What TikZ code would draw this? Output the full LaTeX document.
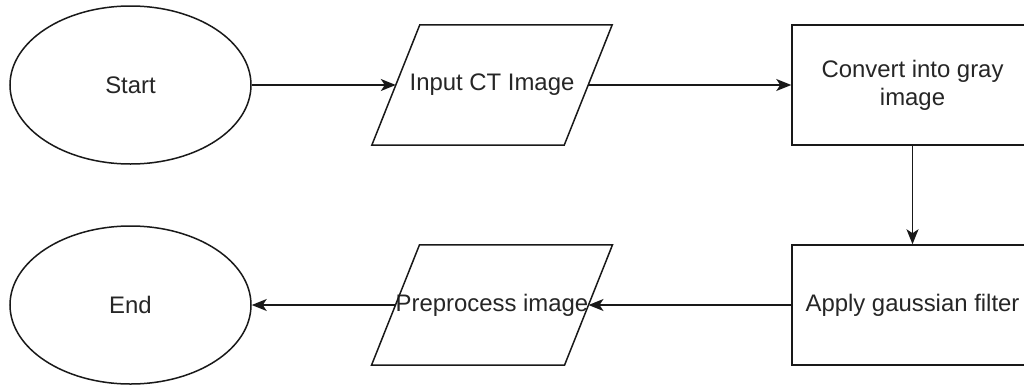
\documentclass[tikz,border=0pt]{standalone}
\usepackage{fontspec}
\setmainfont{Liberation Sans}
\usetikzlibrary{shapes.geometric,arrows.meta}

\tikzset{
  every node/.style={font=\fontsize{23.9}{28}\selectfont, text=black!85},
  outline/.style={draw=black!90, line width=1.5pt},
  terminal/.style={outline, ellipse, minimum width=241pt, minimum height=158pt, inner sep=0pt},
  iobox/.style={rectangle, minimum width=192pt, minimum height=120pt, inner sep=0pt},
  procbox/.style={outline, rectangle, minimum width=241pt, minimum height=120pt, inner sep=0pt, align=center},
  flow/.style={draw=black!90, line width=1.5pt, -{Stealth[length=15pt, width=12pt, inset=4pt]}},
}

% a slanted input/output box drawn around a named text node
\newcommand{\slantbox}[1]{%
  \draw[outline, line join=miter]
    ([xshift=24pt]#1.north west) -- ([xshift=24pt]#1.north east) --
    ([xshift=-24pt]#1.south east) -- ([xshift=-24pt]#1.south west) -- cycle;}

\begin{document}
\begin{tikzpicture}[x=1pt, y=-1pt]
  \useasboundingbox (0,0) rectangle (1024,391);
  \clip (0,0) rectangle (1024,391);
  \fill[white] (0,0) rectangle (1024,391);

  % top row
  \node[terminal] (start) at (130.5,85) {Start};
  \node[iobox] (input) at (492,85) {Input CT Image};
  \slantbox{input}
  \node[procbox] (gray) at (912.5,85) {Convert into gray\\image};

  % bottom row
  \node[procbox] (gauss) at (912.5,305) {Apply gaussian filter};
  \node[iobox] (prep) at (492,305) {Preprocess image};
  \slantbox{prep}
  \node[terminal] (finish) at (130.5,305) {End};

  % connectors
  \draw[flow] (start.east) -- (input.west);
  \draw[flow] (input.east) -- (gray.west);
  \draw[flow] (gray.south) -- (gauss.north);
  \draw[flow] (gauss.west) -- (prep.east);
  \draw[flow] (prep.west) -- (finish.east);
\end{tikzpicture}
\end{document}
